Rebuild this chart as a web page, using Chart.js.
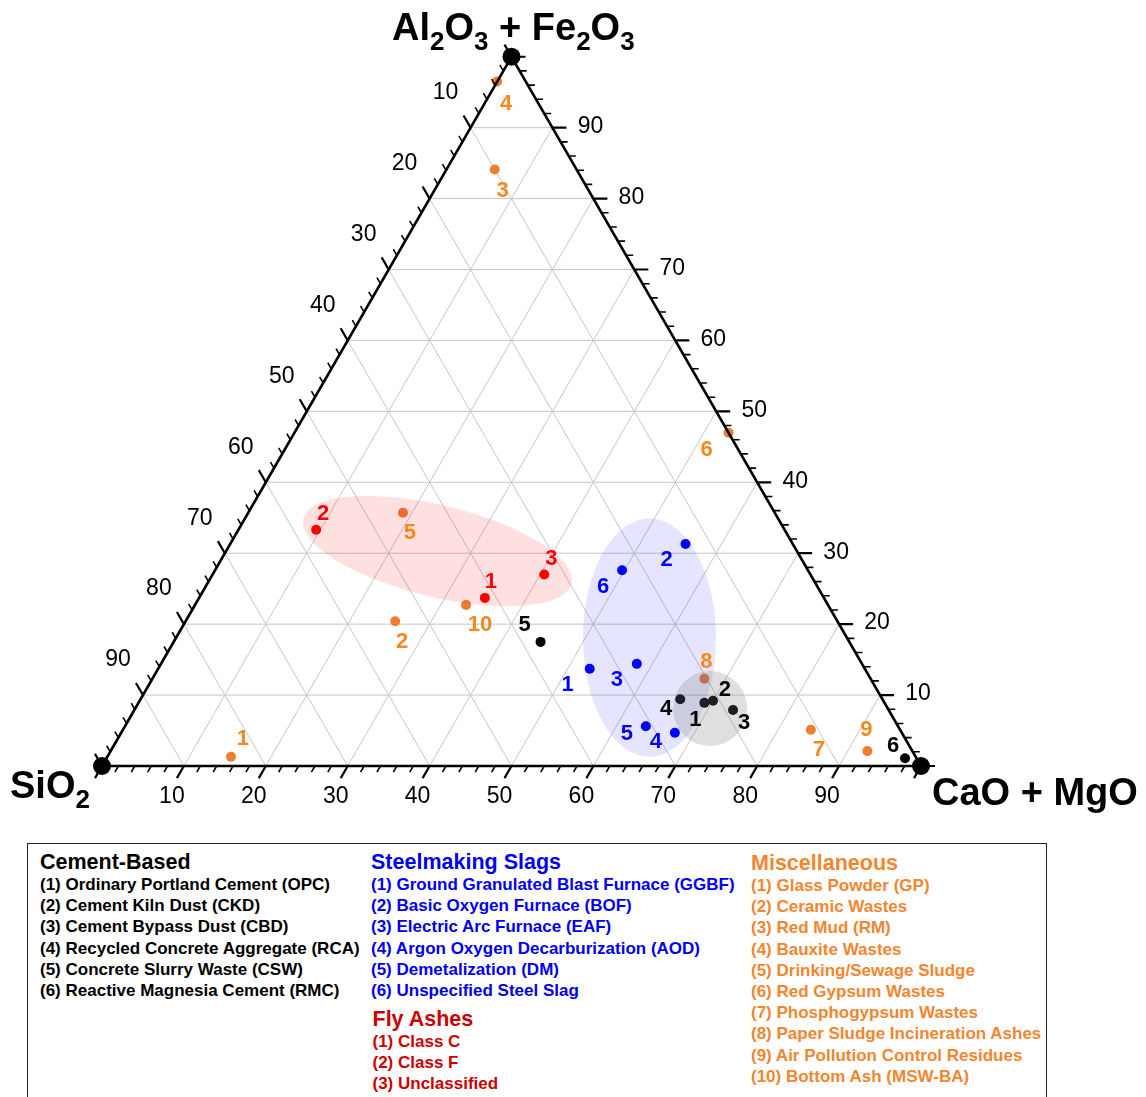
<!DOCTYPE html>
<html>
<head>
<meta charset="utf-8">
<title>Ternary diagram: SiO2 – Al2O3+Fe2O3 – CaO+MgO</title>
<script src="https://cdn.jsdelivr.net/npm/chart.js@4.4.1/dist/chart.umd.min.js"></script>
<style>
  html, body { margin: 0; padding: 0; background: #fff; }
  #wrap { position: absolute; left: 0; top: 0; width: 1146px; height: 835px; }
  .legend-box { position: absolute; left: 27px; top: 843px; width: 1020px; height: 300px;
                border: 1.5px solid #222; box-sizing: border-box; }
  .col { position: absolute; font-family: "Liberation Sans", Arial, sans-serif; font-weight: bold; white-space: nowrap; }
  .col .hd { font-size: 21.5px; line-height: 24px; }
  .col .it { font-size: 17px; line-height: 21.2px; }
  .c-black { color: #000; }
  .c-blue { color: #0000f0; }
  .c-red { color: #cc0000; }
  .c-orange { color: #f2862e; }
</style>
</head>
<body>
<div id="wrap"><canvas id="chart"></canvas></div>

<div class="legend-box"></div>
<div class="col c-black" style="left:40px; top:850px;">
  <div class="hd">Cement-Based</div>
  <div class="it">(1) Ordinary Portland Cement (OPC)</div>
  <div class="it">(2) Cement Kiln Dust (CKD)</div>
  <div class="it">(3) Cement Bypass Dust (CBD)</div>
  <div class="it">(4) Recycled Concrete Aggregate (RCA)</div>
  <div class="it">(5) Concrete Slurry Waste (CSW)</div>
  <div class="it">(6) Reactive Magnesia Cement (RMC)</div>
</div>
<div class="col" style="left:371px; top:850px;">
  <div class="c-blue">
    <div class="hd">Steelmaking Slags</div>
    <div class="it">(1) Ground Granulated Blast Furnace (GGBF)</div>
    <div class="it">(2) Basic Oxygen Furnace (BOF)</div>
    <div class="it">(3) Electric Arc Furnace (EAF)</div>
    <div class="it">(4) Argon Oxygen Decarburization (AOD)</div>
    <div class="it">(5) Demetalization (DM)</div>
    <div class="it">(6) Unspecified Steel Slag</div>
  </div>
  <div class="c-red" style="margin-top:5.4px; margin-left:1.5px;">
    <div class="hd">Fly Ashes</div>
    <div class="it">(1) Class C</div>
    <div class="it">(2) Class F</div>
    <div class="it">(3) Unclassified</div>
  </div>
</div>
<div class="col c-orange" style="left:751px; top:851px;">
  <div class="hd">Miscellaneous</div>
  <div class="it">(1) Glass Powder (GP)</div>
  <div class="it">(2) Ceramic Wastes</div>
  <div class="it">(3) Red Mud (RM)</div>
  <div class="it">(4) Bauxite Wastes</div>
  <div class="it">(5) Drinking/Sewage Sludge</div>
  <div class="it">(6) Red Gypsum Wastes</div>
  <div class="it">(7) Phosphogypsum Wastes</div>
  <div class="it">(8) Paper Sludge Incineration Ashes</div>
  <div class="it">(9) Air Pollution Control Residues</div>
  <div class="it">(10) Bottom Ash (MSW-BA)</div>
</div>

<script>
// ---- Oxide compositions, wt% (SiO2 / Al2O3+Fe2O3 / CaO+MgO) ----

// Cement-based materials: OPC, CKD, CBD, RCA, CSW, RMC
const cementSiO2 = [22.0, 20.8, 19.0, 24.7, 37.7, 1.4];
const cementAlFe = [8.9, 9.2, 7.9, 9.4, 17.5, 1.1];
const cementCaMg = [69.1, 70.0, 73.1, 65.9, 44.8, 97.5];

// Steelmaking slags: GGBF, BOF, EAF, AOD, DM, unspecified
const slagSiO2 = [33.6, 13.1, 27.5, 27.7, 30.8, 22.7];
const slagAlFe = [13.7, 31.3, 14.4, 4.7, 5.6, 27.6];
const slagCaMg = [52.7, 55.6, 58.1, 67.6, 63.6, 49.7];

// Fly ashes: class C, class F, unclassified
const flySiO2 = [41.4, 57.2, 32.5];
const flyAlFe = [23.7, 33.3, 27.0];
const flyCaMg = [34.9, 9.5, 40.5];

// Miscellaneous wastes: GP, ceramic, RM, bauxite, sludge, red gypsum,
// phosphogypsum, PSIA, APC residues, MSW bottom ash
const miscSiO2 = [83.6, 54.0, 10.0, 3.5, 45.4, 0.0, 10.9, 20.3, 5.5, 44.2];
const miscAlFe = [1.3, 20.4, 84.1, 96.5, 35.7, 47.0, 5.1, 12.3, 2.1, 22.7];
const miscCaMg = [15.1, 25.6, 5.9, 0.0, 18.9, 53.0, 84.0, 67.4, 92.4, 33.1];

// Axis tick values
const majorTicks = [10, 20, 30, 40, 50, 60, 70, 80, 90];

// ---- Placement of the number tags next to each marker (px) ----
const cementTagOffsets = [[-9, 17], [12, -11], [11, 13], [-14, 10], [-16, -17], [-12, -12]];
const slagTagOffsets = [[-22, 16], [-19, 16], [-20, 16], [-19, 9], [-19, 8], [-19, 17]];
const flyTagOffsets = [[6, -16], [7, -16], [7, -16]];
const miscTagOffsets = [[12, -18], [7, 21], [8, 21], [9, 22], [7, 20], [-22, 17], [8, 20], [2, -17], [-1, -21], [14, 20]];

// Shaded groupings: centre as composition, radii in % units, tilt in degrees
const regions = [
  { centre: [43.9, 30.3, 25.8], rx: 16.85, ry: 5.6, tilt: 13.6, fill: 'rgba(255,0,0,0.12)' },
  { centre: [24.1, 18.1, 57.8], rx: 8.12, ry: 14.55, tilt: 0, fill: 'rgba(0,0,255,0.10)' },
  { centre: [21.7, 8.1, 70.2], rx: 4.52, ry: 4.58, tilt: 0, fill: 'rgba(120,120,120,0.24)' }
];

const FONT = '"Liberation Sans", Arial, sans-serif';
const H = Math.sqrt(3) / 2;

// composition -> cartesian data coordinates (SiO2 left, CaO+MgO right, Al2O3+Fe2O3 top)
function toXY(s, a, c) {
  const t = s + a + c;
  const A = a / t * 100, C = c / t * 100;
  return { x: C + A / 2, y: A * H };
}
function series(S, A, C) { return S.map((s, i) => toXY(s, A[i], C[i])); }

function pixFn(chart) {
  const X = chart.scales.x, Y = chart.scales.y;
  return (s, a, c) => { const q = toXY(s, a, c); return [X.getPixelForValue(q.x), Y.getPixelForValue(q.y)]; };
}

function drawFormula(ctx, parts, x, y, big, small, drop) {
  parts.forEach(([txt, sub]) => {
    ctx.font = 'bold ' + (sub ? small : big) + 'px ' + FONT;
    ctx.fillText(txt, x, sub ? y + drop : y);
    x += ctx.measureText(txt).width;
  });
}

const ternaryFrame = {
  id: 'ternaryFrame',
  beforeDatasetsDraw(chart) {
    const ctx = chart.ctx, P = pixFn(chart);
    ctx.save();
    ctx.strokeStyle = '#c6c6c6';
    ctx.lineWidth = 1;
    ctx.beginPath();
    majorTicks.forEach(k => {
      let p = P(100 - k, k, 0), q = P(0, k, 100 - k);
      ctx.moveTo(p[0], p[1]); ctx.lineTo(q[0], q[1]);
      p = P(100 - k, 0, k); q = P(0, 100 - k, k);
      ctx.moveTo(p[0], p[1]); ctx.lineTo(q[0], q[1]);
      p = P(k, 0, 100 - k); q = P(k, 100 - k, 0);
      ctx.moveTo(p[0], p[1]); ctx.lineTo(q[0], q[1]);
    });
    ctx.stroke();
    ctx.restore();
  },
  afterDatasetsDraw(chart) {
    const ctx = chart.ctx, P = pixFn(chart);
    const X = chart.scales.x;
    const unit = X.getPixelForValue(1) - X.getPixelForValue(0);
    ctx.save();

    // shaded groupings
    regions.forEach(r => {
      const [cx, cy] = P(r.centre[0], r.centre[1], r.centre[2]);
      ctx.fillStyle = r.fill;
      ctx.beginPath();
      ctx.ellipse(cx, cy, r.rx * unit, r.ry * unit, r.tilt * Math.PI / 180, 0, 2 * Math.PI);
      ctx.fill();
    });

    // triangle frame
    const vS = P(100, 0, 0), vA = P(0, 100, 0), vC = P(0, 0, 100);
    ctx.strokeStyle = '#000';
    ctx.lineWidth = 2.6;
    ctx.lineJoin = 'miter';
    ctx.beginPath();
    ctx.moveTo(vS[0], vS[1]); ctx.lineTo(vA[0], vA[1]); ctx.lineTo(vC[0], vC[1]); ctx.closePath();
    ctx.stroke();

    // ticks
    const dLeft = [-0.5, -H], dRight = [1, 0], dBottom = [-0.5, H];
    const tick = (p, d, len) => { ctx.moveTo(p[0], p[1]); ctx.lineTo(p[0] + d[0] * len, p[1] + d[1] * len); };
    for (let v = 0; v <= 100; v += 2) {
      const major = v % 10 === 0;
      const len = major ? 14 : 7;
      ctx.lineWidth = major ? 2.2 : 1.6;
      ctx.beginPath();
      tick(P(v, 100 - v, 0), dLeft, len);
      tick(P(0, v, 100 - v), dRight, len);
      tick(P(100 - v, 0, v), dBottom, len);
      ctx.stroke();
    }

    // tick labels
    ctx.fillStyle = '#000';
    ctx.font = '23px ' + FONT;
    ctx.textAlign = 'center';
    ctx.textBaseline = 'middle';
    majorTicks.forEach(v => {
      let p = P(v, 100 - v, 0);
      ctx.fillText(String(v), p[0] - 25, p[1] - 35);
      p = P(0, v, 100 - v);
      ctx.fillText(String(v), p[0] + 38, p[1] - 1);
      p = P(100 - v, 0, v);
      ctx.fillText(String(v), p[0] - 12, p[1] + 31);
    });

    // apex markers
    ctx.fillStyle = '#000';
    [vS, vA, vC].forEach(p => { ctx.beginPath(); ctx.arc(p[0], p[1], 9, 0, 2 * Math.PI); ctx.fill(); });

    // axis titles
    ctx.textAlign = 'left';
    ctx.textBaseline = 'alphabetic';
    drawFormula(ctx, [['Al', 0], ['2', 1], ['O', 0], ['3', 1], [' + Fe', 0], ['2', 1], ['O', 0], ['3', 1]], 392, 40, 38, 26, 10);
    drawFormula(ctx, [['SiO', 0], ['2', 1]], 10, 798, 38, 26, 10);
    drawFormula(ctx, [['CaO + MgO', 0]], 932, 805, 38, 26, 10);

    // number tags beside markers
    ctx.font = 'bold 22px ' + FONT;
    ctx.textAlign = 'center';
    ctx.textBaseline = 'middle';
    chart.data.datasets.forEach((ds, di) => {
      if (!ds.tagOffsets) return;
      const meta = chart.getDatasetMeta(di);
      ctx.fillStyle = ds.tagColor;
      meta.data.forEach((el, i) => {
        const off = ds.tagOffsets[i];
        ctx.fillText(String(i + 1), el.x + off[0], el.y + off[1]);
      });
    });
    ctx.restore();
  }
};

// isotropic scale: 8.19 px per composition unit, SiO2 apex at (102, 766)
const PX = 8.19, W = 1146, HT = 835;
const xMin = -102 / PX, xMax = xMin + W / PX;
const yMax = 766 / PX, yMin = yMax - HT / PX;

const mk = (label, data, color, tagColor, tagOffsets, order) => ({
  label, data, order, tagColor, tagOffsets,
  backgroundColor: color, borderColor: color, borderWidth: 0,
  pointRadius: 5, pointHoverRadius: 5, pointBorderWidth: 0
});

new Chart(document.getElementById('chart'), {
  type: 'scatter',
  data: {
    datasets: [
      mk('Cement-Based', series(cementSiO2, cementAlFe, cementCaMg), '#000000', '#000000', cementTagOffsets, 1),
      mk('Steelmaking Slags', series(slagSiO2, slagAlFe, slagCaMg), '#0000ff', '#0000ff', slagTagOffsets, 2),
      mk('Fly Ashes', series(flySiO2, flyAlFe, flyCaMg), '#ff0000', '#ff0000', flyTagOffsets, 3),
      mk('Miscellaneous', series(miscSiO2, miscAlFe, miscCaMg), '#ed7d31', '#f7871f', miscTagOffsets, 4)
    ]
  },
  options: {
    responsive: true,
    maintainAspectRatio: false,
    animation: false,
    events: [],
    layout: { padding: 0, autoPadding: false },
    plugins: { legend: { display: false }, tooltip: { enabled: false }, title: { display: false } },
    scales: {
      x: { type: 'linear', min: xMin, max: xMax, display: false },
      y: { type: 'linear', min: yMin, max: yMax, display: false }
    }
  },
  plugins: [ternaryFrame]
});
</script>
</body>
</html>
